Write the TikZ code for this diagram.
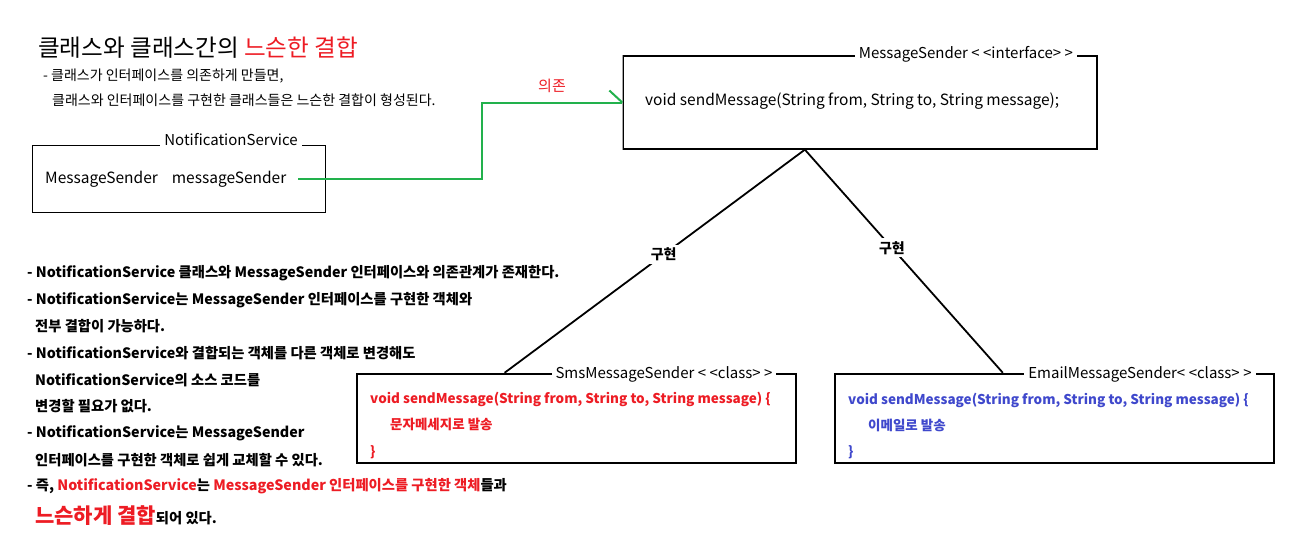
\documentclass[tikz,border=0pt]{standalone}
\usepackage{fontspec}
\setmainfont{Noto Sans CJK KR}
\usetikzlibrary{calc}
\definecolor{pred}{HTML}{ED1C24}
\definecolor{pgreen}{HTML}{22B14C}
\definecolor{pblue}{HTML}{3F48CC}
\newcommand{\stereo}[1]{<\hspace{3.5pt}<#1>\hspace{3.5pt}>}
\begin{document}
\begin{tikzpicture}[x=1pt,y=-1pt,
  box/.style={draw=black, line width=1.3pt, inner sep=0pt},
  thickbox/.style={draw=black, line width=2.4pt, inner sep=0pt},
  boxtitle/.style={fill=white, inner xsep=4pt, inner ysep=1pt, font=\fontsize{15}{17}\selectfont},
  txt/.style={anchor=west, inner sep=0pt},
  mid/.style={font=\fontsize{15.5}{18}\selectfont},
  small/.style={font=\fontsize{14}{16}\selectfont},
  bul/.style={txt, font=\fontsize{14.3}{16}\selectfont\bfseries},
  code/.style={txt, font=\fontsize{13.5}{16}\selectfont\bfseries},
  impl/.style={draw=black, line width=1.8pt},
  lbl/.style={fill=white, inner sep=3pt, font=\fontsize{14}{16}\selectfont\bfseries},
  dep/.style={draw=pgreen, line width=2pt}
]
\useasboundingbox (0,0) rectangle (1296,552);

% title
\node[txt, font=\fontsize{23.6}{27}\selectfont] (title) at (38,48) {클래스와 클래스간의 \textcolor{pred}{느슨한 결합}};
\node[txt, small] (sub1) at (43,76) {- 클래스가 인터페이스를 의존하게 만들면,};
\node[txt, small] (sub2) at (52,100) {클래스와 인터페이스를 구현한 클래스들은 느슨한 결합이 형성된다.};

% boxes
\node[box, line width=1pt, minimum width=293pt, minimum height=67pt] (ns) at (178.5,178.5) {};
\node[boxtitle] (nstitle) at (231,140) {NotificationService};
\node[txt, mid] (field) at (45,179) {MessageSender\hspace{14pt}messageSender};

\node[box, minimum width=474pt, minimum height=93pt] (ms) at (860,102.5) {};
\draw[draw=gray!70, line width=1.3pt] (ms.north west) -- (ms.south west);
\node[boxtitle] (mstitle) at (966,54) {MessageSender \stereo{interface}};
\node[txt, mid] (msm) at (645,101) {void sendMessage(String from, String to, String message);};

\node[thickbox, minimum width=439pt, minimum height=89pt] (sms) at (576.5,418.5) {};
\node[boxtitle] (smstitle) at (664,374) {SmsMessageSender \stereo{class}};
\node[code, text=pred] (s1) at (370,399) {void sendMessage(String from, String to, String message) \{};
\node[code, text=pred] (s2) at (390,424) {문자메세지로 발송};
\node[code, text=pred] (s3) at (370,452) {\}};

\node[thickbox, minimum width=439pt, minimum height=89pt] (email) at (1054.5,418.5) {};
\node[boxtitle] (emailtitle) at (1140,374) {EmailMessageSender\stereo{class}};
\node[code, text=pblue] (e1) at (848,400) {void sendMessage(String from, String to, String message) \{};
\node[code, text=pblue] (e2) at (868,425) {이메일로 발송};
\node[code, text=pblue] (e3) at (848,452) {\}};

% dependency
\coordinate (bendx) at (482,0);
\draw[dep] ([xshift=12pt]field.east) -- (bendx |- field.east) |- (ms.west);
\draw[dep] (ms.west) -- ++(-13,-12);
\node[txt, font=\fontsize{15}{17}\selectfont, text=pred] (deplbl) at (538,86) {의존};

% implementation
\coordinate (top) at ($(ms.south west)!0.384!(ms.south east)$);
\coordinate (smstop) at ($(sms.north west)!0.337!(sms.north east)$);
\coordinate (emailtop) at ($(email.north west)!0.383!(email.north east)$);
\draw[impl] (top) -- node[lbl, pos=0.47] (impl1) {구현} (smstop);
\draw[impl] (top) -- node[lbl, pos=0.44] (impl2) {구현} (emailtop);

% bullets
\node[bul] (b1) at (27,273) {- NotificationService 클래스와 MessageSender 인터페이스와 의존관계가 존재한다.};
\node[bul] (b2) at (27,300) {- NotificationService는 MessageSender 인터페이스를 구현한 객체와};
\node[bul] (b3) at (35,326) {전부 결합이 가능하다.};
\node[bul] (b4) at (27,353) {- NotificationService와 결합되는 객체를 다른 객체로 변경해도};
\node[bul] (b5) at (35,380) {NotificationService의 소스 코드를};
\node[bul] (b6) at (35,406) {변경할 필요가 없다.};
\node[bul] (b7) at (27,433) {- NotificationService는 MessageSender};
\node[bul] (b8) at (35,460) {인터페이스를 구현한 객체로 쉽게 교체할 수 있다.};
\node[bul] (b9) at (27,486) {- 즉, \textcolor{pred}{NotificationService}는 \textcolor{pred}{MessageSender 인터페이스를 구현한 객체}들과};
\node[bul] (b10) at (35,516) {\textcolor{pred}{\fontsize{21}{24}\selectfont 느슨하게 결합}되어 있다.};
\end{tikzpicture}
\end{document}
